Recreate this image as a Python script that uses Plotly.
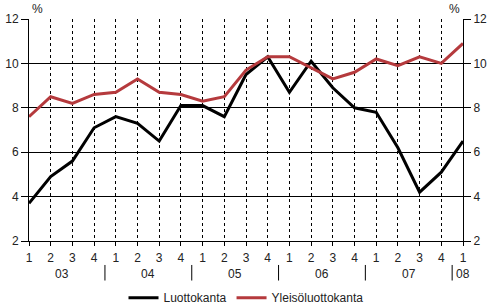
import plotly.graph_objects as go

quarters = ["1", "2", "3", "4"] * 5 + ["1"]
years = ["03", "04", "05", "06", "07", "08"]
luottokanta = [3.7, 4.9, 5.6, 7.1, 7.6, 7.3, 6.5, 8.1, 8.1, 7.6, 9.5, 10.3,
               8.7, 10.1, 8.9, 8.0, 7.8, 6.2, 4.2, 5.1, 6.5]
yleiso = [7.6, 8.5, 8.2, 8.6, 8.7, 9.3, 8.7, 8.6, 8.3, 8.5, 9.7, 10.3,
          10.3, 9.8, 9.3, 9.6, 10.2, 9.9, 10.3, 10.0, 10.9]
y_ticks = [2, 4, 6, 8, 10, 12]

xs = list(range(len(quarters)))
FONT = "Liberation Sans, Arial, sans-serif"
RED = "#B53A3D"
TXT = "#222"

fig = go.Figure()
fig.add_trace(go.Scatter(x=xs, y=luottokanta, mode="lines", name="Luottokanta",
                         line=dict(color="black", width=3)))
fig.add_trace(go.Scatter(x=xs, y=yleiso, mode="lines", name="Yleisöluottokanta",
                         line=dict(color=RED, width=3)))
# invisible trace to carry the right-hand axis and the quarter label axis
fig.add_trace(go.Scatter(x=xs, y=yleiso, mode="lines", xaxis="x2", yaxis="y2",
                         showlegend=False, hoverinfo="skip",
                         line=dict(color="rgba(0,0,0,0)", width=0)))

axis_common = dict(range=[2, 12], tickvals=y_ticks, ticks="outside", ticklen=7,
                   tickcolor="black", showline=True, linecolor="black", linewidth=1,
                   tickfont=dict(family=FONT, size=12, color=TXT), zeroline=False,
                   automargin=False)

fig.update_layout(
    width=492, height=307,
    margin=dict(l=29, r=29, t=19, b=66, autoexpand=False),
    paper_bgcolor="white", plot_bgcolor="white",
    font=dict(family=FONT, size=12, color=TXT),
    xaxis=dict(range=[0, 20], tickvals=xs, showticklabels=False, showgrid=True,
               gridcolor="black", griddash="3px,3px", gridwidth=1,
               ticks="outside", ticklen=4, tickcolor="black",
               showline=True, linecolor="black", linewidth=1, zeroline=False,
               automargin=False),
    xaxis2=dict(range=[0, 20], tickvals=xs, ticktext=quarters, overlaying="x",
                side="bottom", showgrid=False, showline=False, zeroline=False,
                ticks="outside", ticklen=6, tickcolor="rgba(0,0,0,0)",
                automargin=False,
                tickfont=dict(family=FONT, size=12, color=TXT)),
    yaxis=dict(**axis_common, showgrid=True, gridcolor="black", gridwidth=1, side="left"),
    yaxis2=dict(**axis_common, showgrid=False, side="right", overlaying="y"),
    legend=dict(orientation="h", x=0.5, xanchor="center", y=-0.19, yanchor="top",
                font=dict(family=FONT, size=12, color=TXT), itemwidth=30,
                tracegroupgap=0),
    showlegend=True,
)

# year labels and separators
year_centers = [1.5 + 4 * i for i in range(5)] + [20]
for yr, xc in zip(years, year_centers):
    fig.add_annotation(x=xc, y=-0.15, xref="x", yref="paper", text=yr, showarrow=False,
                       font=dict(family=FONT, size=12, color=TXT),
                       xanchor="center", yanchor="middle")
for i in range(5):
    xsep = 3.5 + 4 * i
    fig.add_shape(type="line", xref="x", yref="paper", x0=xsep, x1=xsep,
                  y0=-0.108, y1=-0.178, line=dict(color="black", width=1))

fig.add_annotation(x=0, y=1.045, xref="paper", yref="paper", text="%", showarrow=False,
                   xanchor="left", xshift=1, yanchor="middle",
                   font=dict(family=FONT, size=12, color=TXT))
fig.add_annotation(x=1, y=1.045, xref="paper", yref="paper", text="%", showarrow=False,
                   xanchor="right", xshift=-1, yanchor="middle",
                   font=dict(family=FONT, size=12, color=TXT))

fig.write_html("out.html")
